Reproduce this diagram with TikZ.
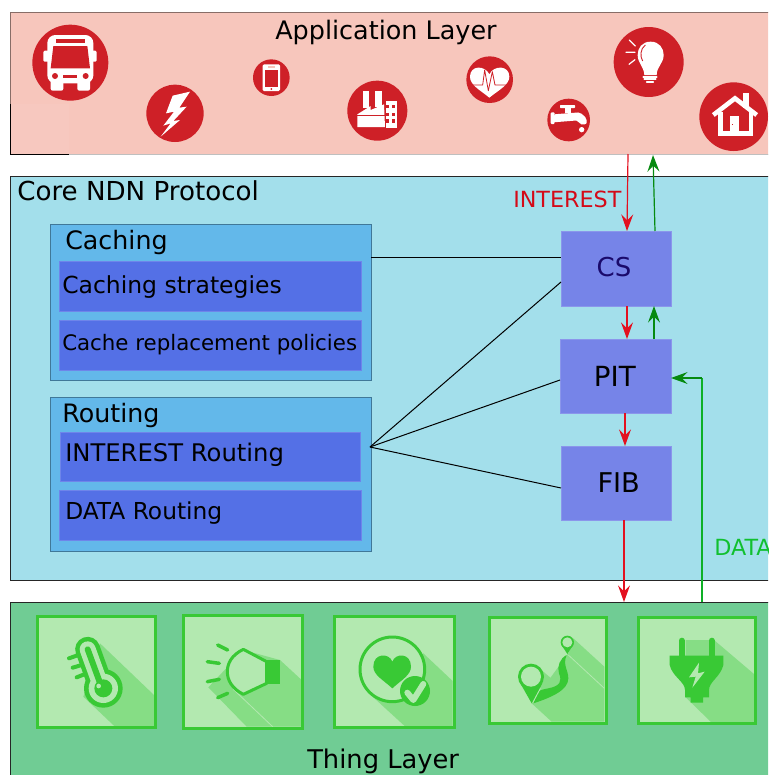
\documentclass[tikz,border=0pt]{standalone}
\usepackage{fontspec}
\setmainfont{DejaVu Sans}
\usetikzlibrary{arrows.meta}
\definecolor{appfill}{HTML}{F7C6BC}
\definecolor{corefill}{HTML}{A3DFEB}
\definecolor{panelfill}{HTML}{63B8EA}
\definecolor{innerfill}{HTML}{5470E6}
\definecolor{tablefill}{HTML}{7684E8}
\definecolor{thingfill}{HTML}{70CC94}
\definecolor{tilefill}{HTML}{B3E9B0}
\definecolor{tileline}{HTML}{39C935}
\definecolor{tileshade}{HTML}{86DD85}
\definecolor{iconred}{HTML}{CE2027}
\definecolor{flowred}{HTML}{E3101F}
\definecolor{flowgreen}{HTML}{068A10}
\definecolor{datagreen}{HTML}{11C02F}
\definecolor{intred}{HTML}{D40A18}
\definecolor{csnavy}{HTML}{1A0A6B}
\newcommand\bx[7]{%
  \pgfmathsetmacro\cxx{(#2+#4)/2}\pgfmathsetmacro\cyy{(#3+#5)/2}%
  \pgfmathsetmacro\ww{(#4-#2)*0.75}\pgfmathsetmacro\hh{(#5-#3)*0.75}%
  \node[#6,minimum width=\ww pt,minimum height=\hh pt] (#1) at (\cxx,\cyy) {#7};}
\tikzset{
  lw/.style={line width=#1*0.75pt},
  plain/.style={inner sep=0pt,outer sep=0pt,rectangle},
  applayer/.style={plain,fill=appfill,draw=black!45!appfill,lw=1},
  corelayer/.style={plain,fill=corefill,draw=black!85,lw=1},
  thinglayer/.style={plain,fill=thingfill,draw=black!85,lw=1},
  panel/.style={plain,fill=panelfill,draw=black!35!panelfill,lw=1},
  inner/.style={plain,fill=innerfill,draw=innerfill!85!white,lw=0.6},
  tablebox/.style={plain,fill=tablefill,draw=tablefill!85!white,lw=0.8,font=\fontsize{20}{20}\selectfont},
  tile/.style={plain,fill=tilefill},
  frame/.style={draw=tileline,lw=3},
  txt/.style={inner sep=0pt,anchor=base west,font=\fontsize{#1}{#1}\selectfont},
  redflow/.style={draw=flowred,lw=1.2,-{Stealth[length=12.5pt,width=9pt,inset=4.5pt]}},
  greenflow/.style={draw=flowgreen,lw=1.2,-{Stealth[length=12.5pt,width=9pt,inset=4.5pt]}},
  link/.style={draw=black,lw=1},
  zoomed/.style={shift={#1},x=0.25pt,y=-0.25pt},
  shade/.style={fill=tileshade},
  ink/.style={fill=tileline},
  gline/.style={draw=tileline,line cap=round,line join=round},
}
\begin{document}
\begin{tikzpicture}[x=0.75pt,y=-0.75pt]
\useasboundingbox (0,0) rectangle (768,775);
\clip (0,0) rectangle (768,775);
% layers
\bx{app}{10}{12}{790}{154}{applayer}{}
\fill[appfill!96!white] (10.5,104) rectangle (69,153.5);
\draw[black,lw=1] (10,104) -- (10,154) -- (69,154);
\draw[black!25,lw=1] (69,154.5) -- (768,154.5);
\bx{core}{10}{176}{790}{580}{corelayer}{}
\bx{thing}{10}{602}{790}{800}{thinglayer}{}
% panels
\bx{caching}{50}{224}{371}{380}{panel}{}
\bx{cstrat}{59}{261}{361}{311}{inner}{}
\bx{crepl}{59}{320}{361}{370}{inner}{}
\bx{routing}{50}{397}{371}{551}{panel}{}
\bx{irout}{60}{432}{360}{481}{inner}{}
\bx{drout}{59}{490}{361}{540}{inner}{}
\bx{cs}{561}{231}{671}{306}{tablebox,text=csnavy}{\raisebox{2pt}{\hspace*{-3pt}\fontsize{19.5}{19.5}\selectfont CS}}
\bx{pit}{560}{339}{671}{413}{tablebox}{\hspace*{-1pt}\fontsize{20.8}{20.8}\selectfont PIT}
\bx{fib}{561}{446}{671}{520}{tablebox}{\hspace*{4pt}\fontsize{20.4}{20.4}\selectfont FIB}
% texts
\node[txt=19.1] (tapp) at (275,39) {Application Layer};
\node[txt=19.6] (tcore) at (17,200) {Core NDN Protocol};
\node[txt=19] (tcach) at (65,249) {Caching};
\node[txt=17.6] (tcs) at (62,293) {Caching strategies};
\node[txt=16] (tcr) at (62,350) {Cache replacement policies};
\node[txt=19] (trout) at (62,422) {Routing};
\node[txt=18.2] (tir) at (65,461) {INTEREST Routing};
\node[txt=17.5] (tdr) at (65,519) {DATA Routing};
\node[txt=19.3] (tthing) at (307,768) {Thing Layer};
\node[txt=16.7,text=intred] (tint) at (513,207) {INTEREST};
\node[txt=16.7,text=datagreen] (tdata) at (714,555) {DATA};
% connectors
\coordinate (hub) at (370,447);
\draw[link] (caching.east |- 0,257) -- (cs.west |- 0,257);
\draw[link] (hub) -- (cs.west |- 0,282);
\draw[link] (hub) -- (pit.west |- 0,380);
\draw[link] (hub) -- (fib.west |- 0,488);
\draw[redflow] (app.south -| 628,0) -- (cs.north -| 627,0);
\draw[greenflow] (cs.north -| 655,0) -- (653,155);
\draw[redflow] (cs.south -| 627,0) -- (pit.north -| 627,0);
\draw[greenflow] (pit.north -| 654,0) -- (cs.south -| 654,0);
\draw[redflow] (pit.south -| 625,0) -- (fib.north -| 625,0);
\draw[redflow] (fib.south -| 624,0) -- (thing.north -| 624,0);
\draw[draw=datagreen!70!flowgreen,lw=1.2] (thing.north -| 702,0) -- (702,378);
\draw[greenflow] (702,378) -- (pit.east |- 0,378);
% ---- application icons
\begin{scope}[zoomed={(0,0)}]
  \fill[iconred] (211,188) circle[radius=114];
  \fill[white,rounded corners=6pt] (142,105) rectangle (280,250);
  \fill[white,rounded corners=1pt] (130,152) rectangle (290,185);
  \fill[white,rounded corners=1.5pt] (152,235) rectangle (190,272);
  \fill[white,rounded corners=1.5pt] (232,235) rectangle (270,272);
  \fill[iconred] (160,138) -- (262,138) -- (270,205) -- (152,205) -- cycle;
  \fill[iconred] (168,118) rectangle (254,128);
  \fill[iconred] (165,228) circle[radius=9] (257,228) circle[radius=9];
  \fill[iconred] (190,224) rectangle (232,233);
\end{scope}
\begin{scope}[zoomed={(140,55)}]
  \fill[iconred] (105,175) circle[radius=86];
  \fill[white] (150,110) -- (98,122) -- (78,175) -- (102,170) -- (70,212) -- (92,205) -- (62,245) -- (120,195) -- (100,198) -- (140,155) -- (118,158) -- cycle;
  \fill[iconred] (394,68) circle[radius=55];
  \fill[white,rounded corners=1pt] (368,28) rectangle (420,108);
  \fill[iconred] (375,45) rectangle (413,95);
  \fill[appfill] (385,34) rectangle (405,38);
  \fill[iconred] (394,102) circle[radius=3];
  \fill[iconred] (712,167) circle[radius=90];
  \fill[white] (668,108) rectangle (688,160);
  \fill[white] (706,108) rectangle (726,155);
  \fill[white] (652,178) -- (692,153) -- (692,165) -- (732,148) -- (735,216) -- (652,216) -- cycle;
  \fill[white] (735,138) rectangle (772,218);
  \draw[iconred,lw=1] (735,138) -- (735,218);
  \draw[iconred,lw=0.8] (652,180) -- (735,180);
  \foreach \wy in {155,178,198} \foreach \wx in {743,760} {\fill[iconred] (\wx-5,\wy-5) rectangle (\wx+5,\wy+5);}
\end{scope}
\begin{scope}[zoomed={(460,25)}]
  % heart
  \fill[iconred] (89,164) circle[radius=70];
  \fill[white] (88,218) .. controls (60,195) and (30,180) .. (30,155) .. controls (30,120) and (75,120) .. (88,148) .. controls (101,120) and (148,120) .. (148,155) .. controls (148,180) and (116,195) .. (88,218) -- cycle;
  \draw[iconred,lw=0.8,line join=round] (38,180) -- (68,180) -- (74,135) -- (85,197) -- (97,140) -- (105,180) -- (140,180);
  % tap
  \fill[iconred] (326,285) circle[radius=64];
  \fill[white,rounded corners=0.5pt] (300,240) rectangle (345,249);
  \fill[white] (316,248) rectangle (332,265);
  \fill[white,rounded corners=0.8pt] (272,262) rectangle (284,297);
  \fill[white,rounded corners=1.5pt] (280,268) -- (360,262) -- (380,280) -- (380,298) -- (358,298) -- (355,286) -- (280,292) -- cycle;
  \fill[white] (365,314) circle[radius=8];
  % bulb
  \fill[iconred] (566,111) circle[radius=105];
  \fill[white] (572,50) .. controls (545,50) and (533,70) .. (533,90) .. controls (533,115) and (552,125) .. (553,150) -- (590,150) .. controls (590,125) and (611,115) .. (611,90) .. controls (611,70) and (598,50) .. (572,50) -- cycle;
  \draw[iconred,lw=0.9] (556,60) .. controls (540,72) and (540,95) .. (548,108);
  \draw[white,lw=1.7,line cap=round] (550,155) -- (590,155) (553,163) -- (587,163);
  \draw[white,lw=1.5,line cap=round] (560,171) -- (580,171);
  \draw[white,lw=1.2,line cap=round] (508,45) -- (526,63) (498,82) -- (525,82) (507,118) -- (525,104);
  % house
  \fill[iconred] (821,275) circle[radius=103];
  \fill[white] (850,203) rectangle (868,250);
  \draw[white,lw=4.6,line join=miter] (760,270) -- (825,220) -- (890,270);
  \draw[white,lw=4.6] (782,262) -- (782,326) -- (873,326) -- (873,262);
  \fill[white] (810,272) rectangle (838,325);
  \fill[iconred] (815,296) rectangle (819,300);
\end{scope}
% ---- thing tiles
\bx{tileA}{37.5}{616.5}{155.5}{727.5}{tile}{}
\bx{tileB}{183.5}{615.5}{302.5}{728.5}{tile}{}
\bx{tileC}{334.5}{616.5}{454.5}{727.5}{tile}{}
\bx{tileD}{489.5}{617.5}{606.5}{723.5}{tile}{}
\bx{tileE}{638.5}{617.5}{755.5}{723.5}{tile}{}
\begin{scope}[zoomed={(0,600)}]
  % thermometer
  \fill[shade] (300,130) -- (462,285) -- (462,380) -- (345,380) -- (250,290) -- cycle;
  \draw[gline,lw=25] (263,148) -- (300,250);
  \fill[ink] (310,265) circle[radius=58];
  \draw[draw=tilefill,line cap=round,lw=16] (263,148) -- (300,250);
  \fill[tilefill] (310,265) circle[radius=44];
  \draw[gline,lw=6] (263,148) -- (305,262);
  \fill[ink] (310,265) circle[radius=27];
  \fill[tilefill] (296,258) circle[radius=7];
  \draw[gline,lw=4] (207,175) -- (235,165) (218,203) -- (245,195) (230,232) -- (255,222);
  % spot
  \fill[shade] (730,150) -- (840,180) -- (905,240) -- (905,380) -- (740,380) -- (625,262) -- cycle;
  \draw[tilefill,lw=0.8] (700,268) -- (818,380);
  \draw[gline,lw=3.5] (653,135) -- (683,150) (622,185) -- (658,190) (622,245) -- (658,238) (653,293) -- (683,280);
  \draw[gline,lw=3,fill=tilefill] (730,148) -- (800,185) -- (800,250) -- (730,283) .. controls (695,265) and (682,240) .. (682,215) .. controls (682,190) and (695,165) .. (730,148) -- cycle;
  \fill[ink] (798,180) rectangle (840,252);
\end{scope}
\begin{scope}[zoomed={(330,610)}]
  \fill[shade] (280,130) -- (368,213) -- (368,349) -- (225,349) -- (130,262) -- cycle;
  \draw[tileline,lw=3,fill=tilefill] (187,178) circle[radius=97];
  \fill[ink] (187,235) .. controls (160,210) and (130,195) .. (130,170) .. controls (130,128) and (178,128) .. (187,155) .. controls (196,128) and (243,128) .. (243,170) .. controls (243,195) and (214,210) .. (187,235) -- cycle;
  \fill[ink] (255,243) circle[radius=45];
  \draw[draw=tilefill,lw=6,line cap=round,line join=round] (232,248) -- (250,270) -- (280,222);
\end{scope}
\begin{scope}[zoomed={(485,610)}]
  \fill[shade] (265,85) -- (358,170) -- (358,335) -- (200,335) -- (140,280) -- (250,130) -- cycle;
  \fill[shade] (175,185) -- (222,225) -- (150,280) -- cycle;
  \draw[tilefill,lw=0.8] (250,135) -- (358,235);
  \fill[ink] (145,280) .. controls (200,262) and (250,240) .. (250,205) .. controls (250,180) and (232,165) .. (245,135) .. controls (225,145) and (215,170) .. (222,190) .. controls (232,215) and (225,228) .. (190,235) .. controls (175,238) and (165,240) .. (160,245) -- cycle;
  \draw[tilefill,lw=1] (143,278) -- (166,235);
  % large pin
  \fill[ink] (106,220) -- (140,280) -- (172,220) -- cycle;
  \fill[ink] (138,200) circle[radius=39];
  \fill[tilefill] (138,200) circle[radius=30];
  % small pin
  \fill[ink] (231,107) -- (247,132) -- (263,107) -- cycle;
  \fill[ink] (247,97) circle[radius=20];
  \fill[tilefill] (247,97) circle[radius=15];
\end{scope}
\begin{scope}[zoomed={(384,590)}]
  \fill[shade] (905,150) -- (990,150) -- (1110,252) -- (1110,397) -- (982,397) -- (903,320) -- cycle;
  \draw[gline,lw=6] (893,152) -- (893,200) (983,152) -- (983,200);
  \fill[ink] (857,197) -- (1018,197) -- (1018,225) .. controls (1010,260) and (975,275) .. (975,300) -- (975,322) -- (957,322) -- (957,338) -- (920,338) -- (920,322) -- (903,322) -- (903,300) .. controls (903,275) and (865,260) .. (857,225) -- cycle;
  \fill[tilefill] (945,218) -- (915,262) -- (935,260) -- (925,293) -- (962,245) -- (942,250) -- cycle;
\end{scope}
\foreach \t in {tileA,tileB,tileC,tileD,tileE} \draw[frame] (\t.north west) rectangle (\t.south east);
\end{tikzpicture}
\end{document}
